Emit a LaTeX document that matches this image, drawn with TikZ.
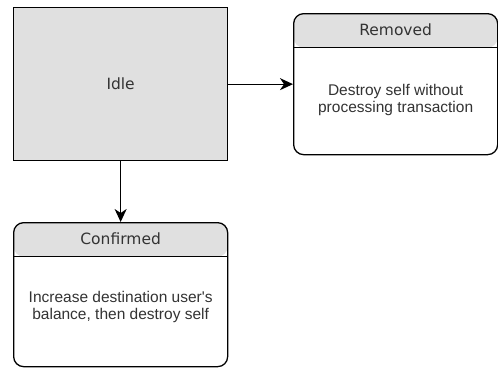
\documentclass[tikz,border=0pt]{standalone}
\usepackage{fontspec}
\setmainfont{Liberation Sans}
\newfontfamily\titlefont{DejaVu Sans}
\usetikzlibrary{arrows.meta}
\definecolor{boxgray}{HTML}{E0E0E0}
\definecolor{ink}{HTML}{333333}
\begin{document}
\begin{tikzpicture}[x=1pt,y=-1pt,
  outline/.style={draw=black,line width=1.3pt},
  idlebox/.style={outline,fill=boxgray,minimum width=214pt,minimum height=153pt,
    inner sep=0pt,anchor=north west,text=ink,font=\titlefont\fontsize{15.5}{18}\selectfont},
  statebox/.style={outline,fill=white,rounded corners=10pt,inner sep=0pt,anchor=north west,
    path picture={
      \fill[boxgray] (path picture bounding box.north west) rectangle
        ([yshift=-34pt]path picture bounding box.east |- path picture bounding box.north);
      \draw[line width=1.3pt] ([yshift=-34pt]path picture bounding box.north west) --
        ([yshift=-34pt]path picture bounding box.north east);
    }},
  titletext/.style={text=ink,inner sep=0pt,font=\titlefont\fontsize{15.5}{18}\selectfont},
  bodytext/.style={text=ink,inner sep=0pt,align=center,font=\fontsize{15.5}{17}\selectfont},
  link/.style={line width=1.3pt,-{Stealth[length=13pt,width=12pt,inset=4pt]}}
]
\useasboundingbox (0,0) rectangle (498,367);

% states
\node[idlebox] (idle) at (13,7) {Idle};
\node[statebox,minimum width=204pt,minimum height=141pt] (removed) at (293,13) {};
\node[statebox,minimum width=214pt,minimum height=144pt] (confirmed) at (13,222) {};

% compartment texts
\node[titletext] (removedtitle) at ([yshift=-17pt]removed.north) {Removed};
\node[bodytext] (removedbody) at ([yshift=-87pt]removed.north)
  {Destroy self without\\processing transaction};
\node[titletext] (confirmedtitle) at ([yshift=-17pt]confirmed.north) {Confirmed};
\node[bodytext] (confirmedbody) at ([yshift=-85pt]confirmed.north)
  {Increase destination user\textquotesingle s\\balance, then destroy self};

% transitions
\draw[link] (idle.east) -- (removed.west);
\draw[link] (idle.south) -- (confirmed.north);
\end{tikzpicture}
\end{document}
